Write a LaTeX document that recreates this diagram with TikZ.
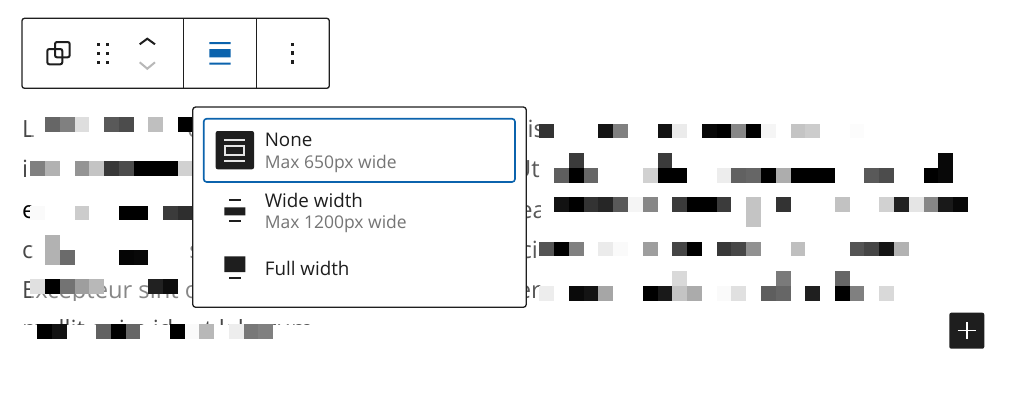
\documentclass[tikz,border=0pt]{standalone}
\usepackage{fontspec}
\setmainfont{Open Sans}
\usetikzlibrary{positioning}
\definecolor{ink}{HTML}{1E1E1E}
\definecolor{wpblue}{HTML}{0B63AD}
\definecolor{hint}{HTML}{757575}
\begin{document}
\begin{tikzpicture}[x=1pt,y=-1pt,
    body/.style={inner sep=0pt,anchor=base west,text=black!72,font=\fontsize{23.7}{28}\selectfont},
    bodyend/.style={body,anchor=base east},
    label/.style={inner sep=0pt,anchor=base west,text=ink,font=\fontsize{18.8}{22}\selectfont},
    hintlabel/.style={inner sep=0pt,text=hint,font=\fontsize{17.5}{20}\selectfont},
    frame/.style={draw=ink,line width=1.3pt,fill=white,rounded corners=2.5pt},
    icon/.style={line width=2pt},
    dot/.style={fill=ink}]

  \useasboundingbox (0,0) rectangle (1024,400);

  \node[body]        (linea)  at (22,137)  {L};
  \node[body]        (lineb)  at (22,177)  {i};
  \node[body,text=black] (linec) at (22,218) {e};
  \node[body]        (lined)  at (22,258)  {c};
  \node[body]        (linee)  at (22,298)  {Excepteur sint o};
  \node[bodyend]     (enda)   at (202,137) {o};
  \node[bodyend]     (endb)   at (202,177) {c};
  \node[bodyend]     (endc)   at (202,218) {e};
  \node[bodyend]     (endd)   at (201,258) {s};
  \begin{scope}
    \clip (500,110) rectangle (540,305);
    \node[bodyend,text=black] (righta) at (545,137) {pis};
    \node[bodyend,text=black] (rightb) at (540,177) {Ut};
    \node[bodyend,text=black] (rightc) at (546,218) {ea};
    \node[bodyend,text=black] (rightd) at (538,258) {ci};
    \node[bodyend,text=black] (righte) at (541,298) {er};
  \end{scope}
  \begin{scope}
    \clip (20,318) rectangle (320,324.5);
    \node[body] (linef) at (22,337) {mollit anim id est laborum};
  \end{scope}

  \fill[white,opacity=.35] (31,110) rectangle (975,302);
  \fill[white] (20,301) rectangle (540,312);

  \foreach \k/\r/\g in {1/0/60,2/0/50,3/0/13,5/0/65,6/0/70,8/0/25,10/0/100,
      0/3/50,1/3/30,3/3/42,4/3/23,5/3/78,6/3/70,7/3/100,8/3/100,9/3/100,10/3/18,
      0/6/2,3/6/20,6/6/100,7/6/100,9/6/77,10/6/82,
      1/8/30,1/9/30,2/9/58,6/9/98,7/9/97,
      0/11/12,1/11/100,2/11/55,3/11/38,4/11/28,8/11/87,9/11/95}
    \fill[black!\g] (30.3+14.75*\k,117+14.75*\r) rectangle +(14.75,14.75);

  \foreach \k/\g in {0/100,1/93,4/62,5/100,6/60,9/100,10/2,11/28,13/7,14/53,15/50}
    \fill[black!\g] (37+14.75*\k,323.8) rectangle +(14.75,14.75);

  \foreach \k/\r/\g in {0/0/80,4/0/92,5/0/50,8/0/93,9/0/8,11/0/97,12/0/100,13/0/47,14/0/100,15/0/4,17/0/23,18/0/20,21/0/1,
      2/2/77,8/2/77,27/2/97,
      1/3/63,2/3/100,3/3/60,7/3/18,8/3/100,9/3/100,12/3/7,13/3/62,14/3/60,15/3/100,16/3/32,17/3/100,18/3/100,19/3/100,22/3/65,23/3/70,26/3/100,27/3/97,
      1/5/93,2/5/100,3/5/80,4/5/85,5/5/65,6/5/4,7/5/47,9/5/77,10/5/100,11/5/100,12/5/77,14/5/23,16/5/80,20/5/24,23/5/18,24/5/87,25/5/10,26/5/47,27/5/90,28/5/97,
      14/6/23,
      0/8/67,1/8/100,2/8/50,4/8/8,5/8/2,7/8/38,9/8/73,10/8/100,12/8/78,13/8/72,14/8/43,17/8/25,21/8/67,22/8/73,23/8/92,24/8/30,
      9/10/15,16/10/52,20/10/60,
      0/11/7,2/11/96,3/11/92,4/11/35,7/11/100,8/11/90,9/11/23,10/11/33,12/11/2,13/11/12,15/11/63,16/11/60,18/11/88,20/11/100,21/11/50,23/11/15}
    \fill[black!\g] (539.3+14.78*\k,123.7+14.75*\r) rectangle +(14.78,14.75);

  \draw[frame] (22,18.3) rectangle (329.3,88.3);
  \draw[draw=ink,line width=1.3pt] (183.7,18.3) -- (183.7,88.3)
                                   (256.3,18.3) -- (256.3,88.3);

  \draw[icon,draw=ink,rounded corners=2pt] (47.3,49) rectangle (62.3,64.3);
  \draw[icon,draw=ink,rounded corners=2pt] (55,42) rectangle (69.7,57.3);

  \foreach \px in {98.3,107.7}
    \foreach \py in {44.3,53,62}
      \fill[dot] (\px-1.5,\py-1.5) rectangle +(3,3);

  \draw[icon,draw=ink] (139.7,44.3) -- (147.3,38.7) -- (155,44.3);
  \draw[icon,draw=black!28] (139.7,62.3) -- (147.3,68.7) -- (155,62.3);

  \fill[wpblue] (209.3,42.2) rectangle (230.7,44.2)
                (209.3,49) rectangle (230.7,57.3)
                (209.3,62.5) rectangle (230.7,64.5);

  \foreach \py in {44.3,53,62}
    \fill[dot] (292.7-1.6,\py-1.6) rectangle +(3.2,3.2);

  \draw[frame,rounded corners=3pt] (192.7,107) rectangle (526.3,307.3);
  \draw[draw=wpblue,line width=1.6pt,rounded corners=3pt] (203.7,118.7) rectangle (515,182);

  \fill[ink,rounded corners=2pt] (215.7,131) rectangle (254,169.3);
  \draw[icon,draw=white!90!black] (224.3,139.7) -- (245.3,139.7)
                                  (224.3,160.7) -- (245.3,160.7);
  \draw[icon,draw=white!90!black] (225.3,146) rectangle (244.3,155);

  \draw[icon,draw=ink] (229.3,200) -- (240.7,200)
                       (229.3,221.3) -- (240.7,221.3)
                       (229.3,278.3) -- (240.7,278.3);
  \fill[ink] (224.3,207.3) rectangle (245.3,215.3)
             (224.3,256.3) rectangle (245.3,272);

  \node[label]     (none)     at (264.6,146.7) {None};
  \node[hintlabel] (nonehint) [below=21.3pt of none.base west,anchor=base west] {Max 650px wide};
  \node[label]     (wide)     at (264.6,207.7) {Wide width};
  \node[hintlabel] (widehint) [below=21pt of wide.base west,anchor=base west] {Max 1200px wide};
  \node[label]     (full)     at (264.6,275)   {Full width};

  \fill[ink,rounded corners=2pt] (949.3,312.7) rectangle (984.3,348.7);
  \draw[line width=1.5pt,draw=white] (957.7,330.7) -- (976,330.7)
                                     (966.8,322) -- (966.8,339.4);
\end{tikzpicture}
\end{document}
